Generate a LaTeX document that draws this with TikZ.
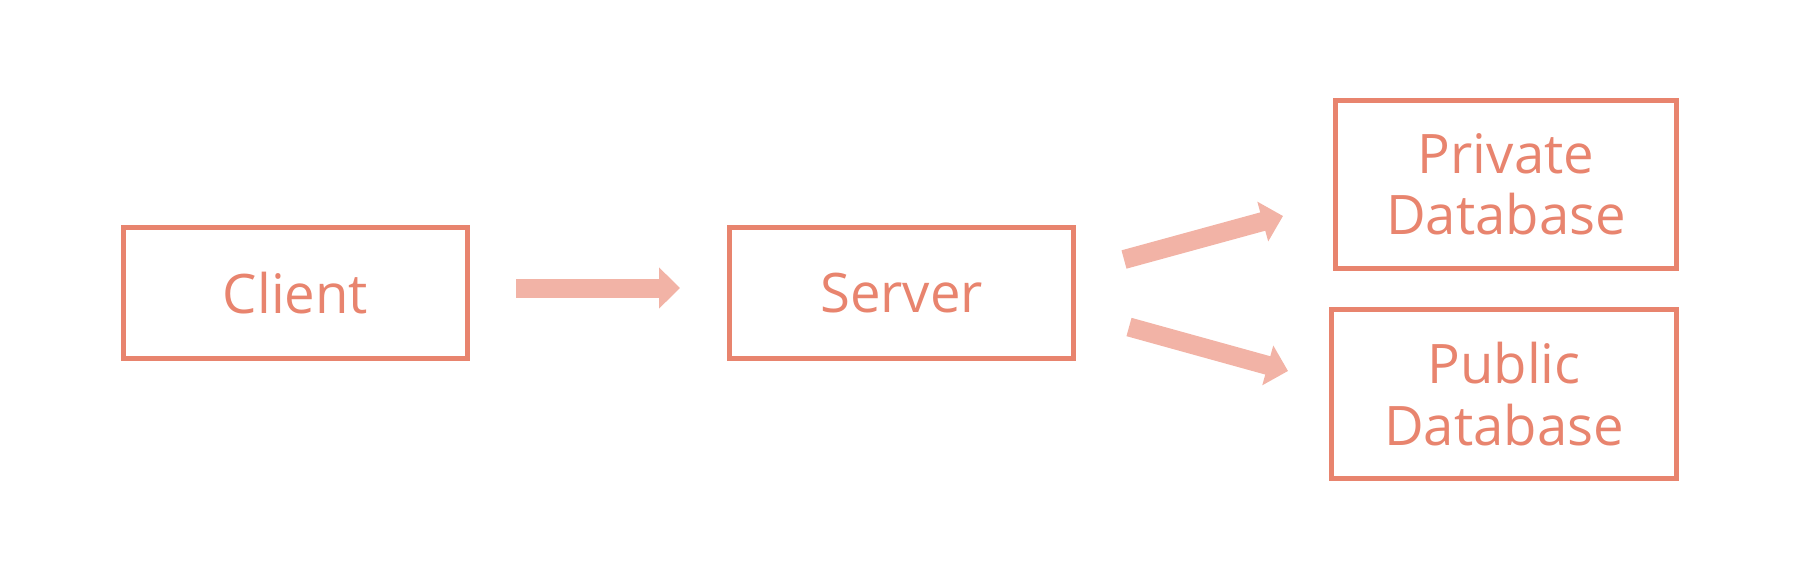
\documentclass[tikz,border=0pt]{standalone}
\usepackage{fontspec}
\setmainfont{Open Sans}
\usepackage{tikz}
\usetikzlibrary{arrows.meta}
\definecolor{boxred}{HTML}{E8846E}
\definecolor{arrowpink}{HTML}{F2B3A6}

\begin{document}
\begin{tikzpicture}[
	box/.style={draw=boxred, line width=0.1cm, text=boxred, align=center,
		font=\fontsize{31}{35}\selectfont, inner sep=0pt},
	flow/.style={draw=arrowpink, line width=0.38cm,
		-{Triangle[length=0.42cm, width=0.8cm]}}]
	%\draw [help lines] (0,0) grid (36,11);
	\useasboundingbox (0,0) rectangle (36.2,11.48);
	\node [box, minimum width=6.88cm, minimum height=2.62cm] (client) at (5.91,5.62) {Client};
	\node [box, minimum width=6.88cm, minimum height=2.62cm] (server) at (18.03,5.62) {Server};
	\node [box, minimum width=6.82cm, minimum height=3.36cm] (private) at (30.12,7.79) {Private\\Database};
	\node [box, minimum width=6.90cm, minimum height=3.38cm] (public) at (30.08,3.60) {Public\\Database};
	\draw [flow] ([xshift=0.92cm, yshift=0.1cm]client.east) -- ([xshift=-0.94cm, yshift=0.1cm]server.west);
	\draw [flow] ([xshift=0.96cm, yshift=0.67cm]server.east) -- ([xshift=-1.0cm, yshift=-0.63cm]private.west);
	\draw [flow] ([xshift=1.06cm, yshift=-0.68cm]server.east) -- ([xshift=-0.82cm, yshift=0.46cm]public.west);
\end{tikzpicture}
\end{document}
